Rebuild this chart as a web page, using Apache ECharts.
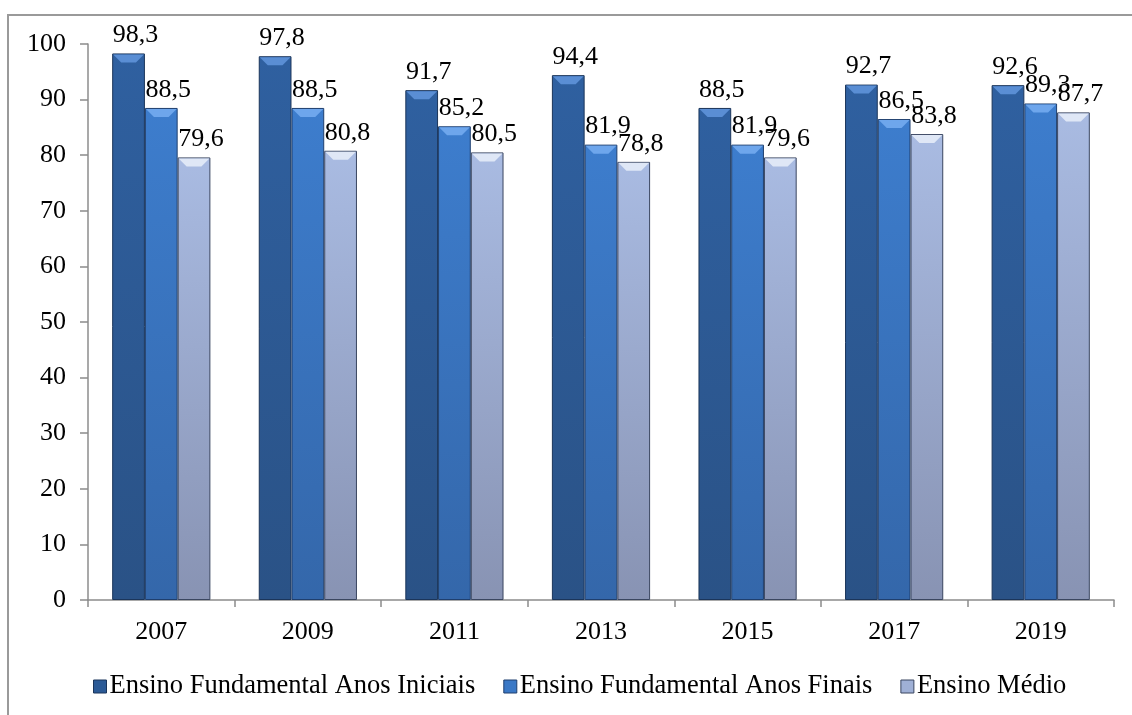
<!DOCTYPE html>
<html>
<head>
<meta charset="utf-8">
<script src="https://cdn.jsdelivr.net/npm/echarts@6/dist/echarts.min.js"></script>
<style>
  html, body { margin: 0; padding: 0; background: #ffffff; }
  #chart { width: 1132px; height: 715px; }
</style>
</head>
<body>
<div id="chart"></div>
<script>
// Years on the category axis
const years = ['2007', '2009', '2011', '2013', '2015', '2017', '2019'];

// Values per school stage
const anosIniciais = [98.3, 97.8, 91.7, 94.4, 88.5, 92.7, 92.6];
const anosFinais   = [88.5, 88.5, 85.2, 81.9, 81.9, 86.5, 89.3];
const ensinoMedio  = [79.6, 80.8, 80.5, 78.8, 79.6, 83.8, 87.7];

// Series names
const seriesNames = [
  'Ensino Fundamental Anos Iniciais',
  'Ensino Fundamental Anos Finais',
  'Ensino Médio'
];

const FONT = '"Liberation Serif", "Times New Roman", serif';
const FS = 26;
const CATEGORY_GAP = 0.33;

function barFill(top, bottom) {
  return new echarts.graphic.LinearGradient(0, 0, 0, 1, [
    { offset: 0, color: top },
    { offset: 1, color: bottom }
  ]);
}

const palette = [
  { fill: barFill('#2f60a0', '#2a5286'), border: '#1b355a', cap: '#5a8ed4', legend: '#2b5a96' },
  { fill: barFill('#3d7dcd', '#3467aa'), border: '#1f3f6e', cap: '#6ea6ec', legend: '#3a78c6' },
  { fill: barFill('#a9bbe2', '#8893b3'), border: '#3a4660', cap: '#dfe7f6', legend: '#9fb0d6' }
];

const allValues = [anosIniciais, anosFinais, ensinoMedio];

function makeSeries(name, data, style) {
  return {
    name: name,
    type: 'bar',
    data: data,
    barGap: '0%',
    barCategoryGap: (CATEGORY_GAP * 100) + '%',
    itemStyle: {
      color: style.fill,
      borderColor: style.border,
      borderWidth: 1
    },
    label: {
      show: true,
      position: 'top',
      distance: 5,
      offset: [7, 0],
      fontFamily: FONT,
      fontSize: FS,
      color: '#000',
      formatter: p => String(p.value).replace('.', ',')
    }
  };
}

// Bevelled caps on top of every bar, placed through the same axes
const capData = [];
allValues.forEach((arr, s) => arr.forEach((v, i) => capData.push([i, v, s])));

const capSeries = {
  type: 'custom',
  name: 'caps',
  silent: true,
  z: 5,
  data: capData,
  encode: { x: 0, y: 1 },
  renderItem: function (params, api) {
    const i = api.value(0), v = api.value(1), s = api.value(2);
    const pt = api.coord([i, v]);
    const cw = api.size([1, 0])[0];
    const groupW = cw * (1 - CATEGORY_GAP);
    const bw = groupW / 3;
    const left = pt[0] - groupW / 2 + s * bw + 1;
    const right = left + bw - 2;
    const y = pt[1] + 1;
    const h = 8, inset = 8;
    return {
      type: 'polygon',
      shape: { points: [[left, y], [right, y], [right - inset, y + h], [left + inset, y + h]] },
      style: { fill: palette[s].cap, stroke: null }
    };
  }
};

const chart = echarts.init(document.getElementById('chart'), null, { renderer: 'canvas' });

chart.setOption({
  animation: false,
  backgroundColor: '#ffffff',
  graphic: [{
    type: 'rect',
    shape: { x: 8, y: 15, width: 1300, height: 900 },
    style: { fill: 'none', stroke: '#9a9a9a', lineWidth: 2 },
    silent: true
  }],
  grid: { left: 88, right: 18, top: 44, bottom: 115 },
  legend: {
    bottom: 10,
    left: 88,
    itemWidth: 13,
    itemHeight: 13,
    itemGap: 28,
    icon: 'rect',
    textStyle: { fontFamily: FONT, fontSize: 26.5, color: '#000', padding: [0, 0, 0, -2] },
    data: seriesNames.map((n, i) => ({
      name: n,
      itemStyle: { color: palette[i].legend, borderColor: palette[i].border, borderWidth: 1 }
    }))
  },
  xAxis: {
    type: 'category',
    data: years,
    axisLine: { lineStyle: { color: '#8c8c8c', width: 1.5 } },
    axisTick: { show: true, length: 7, lineStyle: { color: '#8c8c8c', width: 1.5 } },
    axisLabel: { fontFamily: FONT, fontSize: FS, color: '#000', margin: 19 }
  },
  yAxis: {
    type: 'value',
    min: 0,
    max: 100,
    interval: 10,
    axisLine: { show: true, lineStyle: { color: '#8c8c8c', width: 1.5 } },
    axisTick: { show: true, length: 8, lineStyle: { color: '#8c8c8c', width: 1.5 } },
    splitLine: { show: false },
    axisLabel: { fontFamily: FONT, fontSize: FS, color: '#000', margin: 22 }
  },
  series: [
    makeSeries(seriesNames[0], anosIniciais, palette[0]),
    makeSeries(seriesNames[1], anosFinais, palette[1]),
    makeSeries(seriesNames[2], ensinoMedio, palette[2]),
    capSeries
  ]
});
</script>
</body>
</html>
